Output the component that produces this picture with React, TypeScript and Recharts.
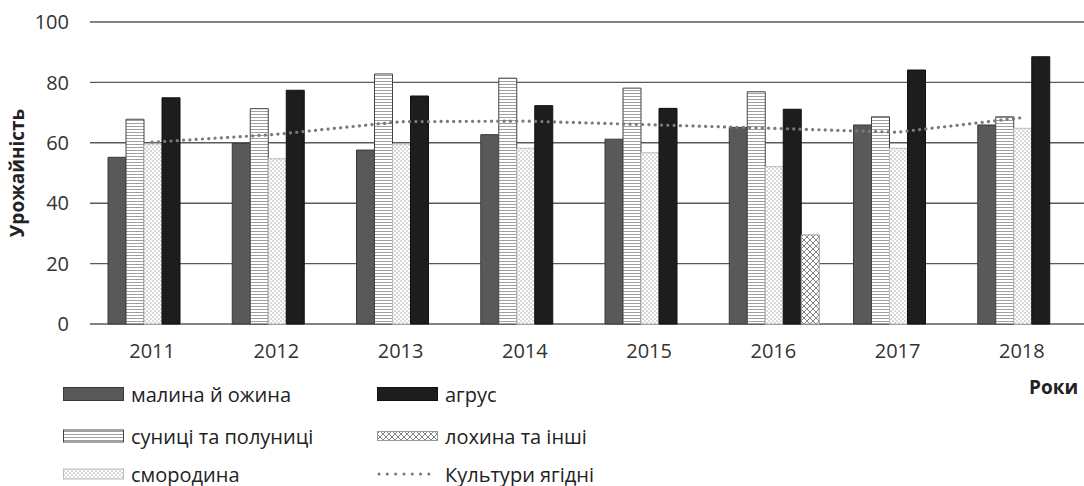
import { Bar, CartesianGrid, ComposedChart, Line, XAxis, YAxis } from "recharts";

const years = ["2011", "2012", "2013", "2014", "2015", "2016", "2017", "2018"];
const malyna = [55.2, 59.8, 57.6, 62.7, 61.2, 65.1, 65.9, 65.9];
const sunytsi = [67.8, 71.3, 82.8, 81.4, 78.1, 76.9, 68.6, 68.6];
const smorodyna = [59.6, 54.7, 59.6, 58.2, 56.7, 52.1, 58.2, 64.8];
const agrus = [74.9, 77.4, 75.5, 72.3, 71.4, 71.1, 84.1, 88.5];
const lokhyna = [null, null, null, null, null, 29.5, null, null];
const yagidni = [60.2, 62.8, 67.0, 67.2, 66.0, 64.8, 63.5, 68.3];
const yTicks = [0, 20, 40, 60, 80, 100];

const data = years.map((year, i) => ({
  year,
  malyna: malyna[i],
  sunytsi: sunytsi[i],
  smorodyna: smorodyna[i],
  agrus: agrus[i],
  lokhyna: lokhyna[i],
  yagidni: yagidni[i],
}));

const FONT = "'Open Sans', sans-serif";

const series = [
  { key: "malyna", name: "малина й ожина", fill: "#595959", stroke: "#3a3a3a", sh: 13 },
  { key: "sunytsi", name: "суниці та полуниці", fill: "url(#stripes)", stroke: "#444", sh: 12 },
  { key: "smorodyna", name: "смородина", fill: "url(#dots)", stroke: "#bbb", sh: 10 },
  { key: "agrus", name: "агрус", fill: "#1d1d1d", stroke: "#111", sh: 13 },
  { key: "lokhyna", name: "лохина та інші", fill: "url(#cross)", stroke: "#999", sh: 9 },
];

function Patterns() {
  return (
    <svg width={0} height={0} style={{ position: "absolute" }}>
      <defs>
        <pattern id="stripes" width={4} height={3} patternUnits="userSpaceOnUse">
          <rect width={4} height={3} fill="#fff" />
          <line x1={0} y1={0.5} x2={4} y2={0.5} stroke="#a0a0a0" strokeWidth={1} />
        </pattern>
        <pattern id="dots" width={4} height={4} patternUnits="userSpaceOnUse">
          <rect width={4} height={4} fill="#fff" />
          <circle cx={1} cy={1} r={0.75} fill="#a0a0a0" />
          <circle cx={3} cy={3} r={0.75} fill="#a0a0a0" />
        </pattern>
        <pattern id="cross" width={6} height={6} patternUnits="userSpaceOnUse">
          <rect width={6} height={6} fill="#fff" />
          <path d="M0,0 L6,6 M6,0 L0,6" stroke="#777" strokeWidth={0.9} />
        </pattern>
      </defs>
    </svg>
  );
}

function Swatch({ fill, stroke, h }: { fill: string; stroke: string; h: number }) {
  return (
    <svg width={62} height={16} style={{ display: "block" }}>
      <rect x={0.5} y={8 - h / 2} width={60} height={h} fill={fill} stroke={stroke} />
    </svg>
  );
}

function LegendItem({ x, y, label, children }: { x: number; y: number; label: string; children: any }) {
  return (
    <div style={{ position: "absolute", left: x, top: y - 12, height: 24, display: "flex", alignItems: "center" }}>
      {children}
      <span style={{ marginLeft: 6, fontFamily: FONT, fontSize: 20, color: "#222", whiteSpace: "nowrap" }}>{label}</span>
    </div>
  );
}

export default function App() {
  const legendPos = [
    { key: "malyna", x: 63, y: 394 },
    { key: "sunytsi", x: 63, y: 436 },
    { key: "smorodyna", x: 63, y: 474 },
    { key: "agrus", x: 377, y: 394 },
    { key: "lokhyna", x: 377, y: 436 },
  ];
  return (
    <div style={{ position: "absolute", left: 0, top: 0, width: 1084, height: 486, background: "#fff" }}>
      <Patterns />
      <ComposedChart
        width={1084}
        height={486}
        data={data}
        margin={{ top: 22, right: 0, left: 0, bottom: 122 }}
        barCategoryGap={18}
        barGap={0}
      >
        <CartesianGrid horizontal vertical={false} stroke="#5a5a5a" strokeWidth={1.4} />
        <XAxis
          dataKey="year"
          axisLine={false}
          tickLine={false}
          height={40}
          tickMargin={14}
          tick={{ fill: "#333", fontSize: 20, fontFamily: FONT }}
        />
        <YAxis
          domain={[0, 100]}
          ticks={yTicks}
          width={90}
          axisLine={false}
          tickLine={false}
          tickMargin={15}
          tick={{ fill: "#333", fontSize: 20, fontFamily: FONT }}
          label={{
            value: "Урожайність",
            angle: -90,
            position: "insideLeft",
            dx: 12,
            style: { fontFamily: FONT, fontSize: 19, fontWeight: 700, fill: "#222", textAnchor: "middle" },
          }}
        />
        {series.map((s) => (
          <Bar key={s.key} dataKey={s.key} name={s.name} fill={s.fill} stroke={s.stroke} strokeWidth={1} isAnimationActive={false} />
        ))}
        <Line
          type="linear"
          dataKey="yagidni"
          name="Культури ягідні"
          stroke="#7a7a7a"
          strokeWidth={3.2}
          strokeDasharray="0.1 6.2"
          strokeLinecap="round"
          dot={false}
          activeDot={false}
          isAnimationActive={false}
        />
      </ComposedChart>
      {legendPos.map((p) => {
        const s = series.find((q) => q.key === p.key)!;
        return (
          <LegendItem key={p.key} x={p.x} y={p.y} label={s.name}>
            <Swatch fill={s.fill} stroke={s.stroke} h={s.sh} />
          </LegendItem>
        );
      })}
      <LegendItem x={377} y={474} label="Культури ягідні">
        <svg width={62} height={16} style={{ display: "block" }}>
          <line x1={2} y1={8} x2={60} y2={8} stroke="#7a7a7a" strokeWidth={3} strokeDasharray="0.1 8.2" strokeLinecap="round" />
        </svg>
      </LegendItem>
      <div
        style={{
          position: "absolute",
          left: 1029,
          top: 374,
          fontFamily: FONT,
          fontSize: 19,
          fontWeight: 700,
          color: "#222",
        }}
      >
        Роки
      </div>
    </div>
  );
}
